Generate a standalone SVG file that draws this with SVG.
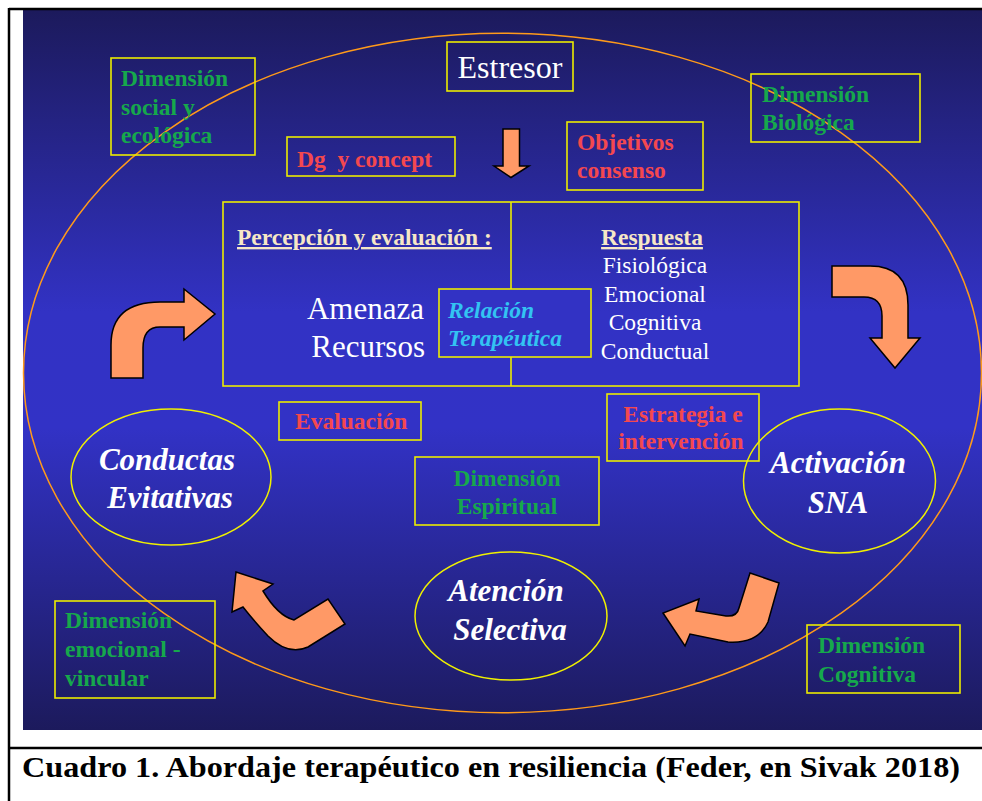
<svg xmlns="http://www.w3.org/2000/svg" width="982" height="801" viewBox="0 0 982 801">
<defs>
<linearGradient id="bg" x1="0" y1="0" x2="0" y2="1">
<stop offset="0" stop-color="#1c1a5c"/>
<stop offset="0.42" stop-color="#3232c4"/>
<stop offset="0.58" stop-color="#3232c6"/>
<stop offset="1" stop-color="#1c1a5c"/>
</linearGradient>
<style>
.box{fill:none;stroke:#ecec00;stroke-width:1.6}
.ell{fill:none;stroke:#f0f000;stroke-width:1.5}
.lbl{font-family:"Liberation Serif","Times New Roman",serif;font-weight:bold;font-size:23.5px}
.green{fill:#16a84c}
.red{fill:#f4484f}
.cream{fill:#f6e7c6;text-decoration:underline}
.plain{font-family:"Liberation Serif","Times New Roman",serif;fill:#ffffff}
.big{font-family:"Liberation Serif","Times New Roman",serif;font-weight:bold;font-style:italic;font-size:31px;fill:#ffffff}
.cyan{fill:#33c3f2;font-style:italic}
.arrow{fill:#ff9966;stroke:#000000;stroke-width:1.5;stroke-linejoin:miter}
</style>
</defs>
<rect x="0" y="0" width="982" height="801" fill="#ffffff"/>
<rect x="23" y="10" width="959" height="720" fill="url(#bg)"/>
<line x1="9" y1="9" x2="982" y2="9" stroke="#000" stroke-width="2.5"/>
<line x1="9" y1="8" x2="9" y2="801" stroke="#000" stroke-width="2.5"/>
<line x1="9" y1="748" x2="982" y2="748" stroke="#000" stroke-width="2.5"/>
<ellipse id="outer" cx="502.5" cy="373" rx="479" ry="339.7" fill="none" stroke="#ff9a1a" stroke-width="1.5"/>

<g id="main">
<rect class="box" x="223" y="202" width="576" height="184"/>
<line class="box" x1="511" y1="202" x2="511" y2="386"/>
<text class="lbl cream" x="237" y="245">Percepción y evaluación :</text>
<text class="lbl cream" x="652" y="245" text-anchor="middle">Respuesta</text>
<text class="plain" font-size="23.5" text-anchor="middle"><tspan x="655" y="273">Fisiológica</tspan><tspan x="655" y="302">Emocional</tspan><tspan x="655" y="330">Cognitiva</tspan><tspan x="655" y="359">Conductual</tspan></text>
<text class="plain" font-size="31" text-anchor="end"><tspan x="424" y="319">Amenaza</tspan><tspan x="425" y="357">Recursos</tspan></text>
</g>

<g id="relacion">
<rect class="box" x="439" y="289" width="152" height="68" fill="#3333c6" style="fill:#3232c4"/>
<text class="lbl cyan"><tspan x="448" y="318">Relación</tspan><tspan x="448" y="346">Terapéutica</tspan></text>
</g>

<g id="estresor">
<rect class="box" x="447" y="42" width="126" height="49"/>
<text class="plain" font-size="32" x="510" y="78" text-anchor="middle">Estresor</text>
</g>

<g id="dim-social">
<rect class="box" x="111" y="58" width="144" height="97"/>
<text class="lbl green"><tspan x="121" y="86">Dimensión</tspan><tspan x="121" y="115">social y</tspan><tspan x="121" y="143">ecológica</tspan></text>
</g>

<g id="dg">
<rect class="box" x="287" y="137" width="168" height="39"/>
<text class="lbl red" x="297" y="167" xml:space="preserve">Dg  y concept</text>
</g>

<g id="objetivos">
<rect class="box" x="567" y="122" width="136" height="68"/>
<text class="lbl red"><tspan x="577" y="150">Objetivos</tspan><tspan x="577" y="178">consenso</tspan></text>
</g>

<g id="dim-bio">
<rect class="box" x="751" y="74" width="169" height="68"/>
<text class="lbl green"><tspan x="762" y="102">Dimensión</tspan><tspan x="762" y="130">Biológica</tspan></text>
</g>

<g id="evaluacion">
<rect class="box" x="279" y="402" width="142" height="38"/>
<text class="lbl red" x="295" y="429">Evaluación</text>
</g>

<g id="estrategia">
<rect class="box" x="607" y="394" width="152" height="67"/>
<text class="lbl red" text-anchor="middle"><tspan x="683" y="422">Estrategia e</tspan><tspan x="681" y="449">intervención</tspan></text>
</g>

<g id="dim-espiritual">
<rect class="box" x="415" y="457" width="184" height="68"/>
<text class="lbl green" text-anchor="middle"><tspan x="507" y="486">Dimensión</tspan><tspan x="507" y="514">Espiritual</tspan></text>
</g>

<g id="conductas">
<ellipse class="ell" cx="171" cy="477" rx="100" ry="68"/>
<text class="big" text-anchor="middle"><tspan x="167" y="470">Conductas</tspan><tspan x="170" y="508">Evitativas</tspan></text>
</g>

<g id="activacion">
<ellipse class="ell" cx="839.5" cy="481" rx="96" ry="72"/>
<text class="big" text-anchor="middle"><tspan x="838" y="473">Activación</tspan><tspan x="838" y="513">SNA</tspan></text>
</g>

<g id="atencion">
<ellipse class="ell" cx="511" cy="616" rx="96" ry="64"/>
<text class="big" text-anchor="middle"><tspan x="506" y="601">Atención</tspan><tspan x="510" y="640">Selectiva</tspan></text>
</g>

<g id="dim-emocional">
<rect class="box" x="55" y="601" width="160" height="97"/>
<text class="lbl green"><tspan x="65" y="628">Dimensión</tspan><tspan x="65" y="657">emocional -</tspan><tspan x="65" y="686">vincular</tspan></text>
</g>

<g id="dim-cognitiva">
<rect class="box" x="807" y="625" width="153" height="68"/>
<text class="lbl green"><tspan x="818" y="653">Dimensión</tspan><tspan x="818" y="682">Cognitiva</tspan></text>
</g>

<g id="connectors">
<path class="arrow" d="M503,129 L519.5,129 L519.5,166 L529,166 L511,177.5 L494,166 L503,166 Z"/>
<path class="arrow" d="M832,266 L870,266 Q908,266 908,305 L908,338 L920,338 L895,368 L870,338 L882,338 L882,316 Q882,297 864,297 L832,297 Z"/>
<path class="arrow" d="M750,573 L779,583 L768,622 Q758,644 728,642 L690,634 L685,646 L663,613 L699,599 L696,611 L726,616 Q737,617 739,608 Z"/>
<path class="arrow" d="M236,572 L273,584 L263,591 Q278,616 294,620 L328,599 L345,624 L308,647 Q288,656 268,636 Q254,621 243,607 L232,612 Z"/>
<path class="arrow" d="M111,378 L111,345 Q111,302 160,302 L184,302 L184,289 L215,314 L184,340 L184,327 L160,327 Q143,327 143,348 L143,378 Z"/>
</g>

<text x="22" y="777" font-family="'Liberation Serif','Times New Roman',serif" font-weight="bold" font-size="29" fill="#000" textLength="938" lengthAdjust="spacingAndGlyphs">Cuadro 1. Abordaje terapéutico en resiliencia (Feder, en Sivak 2018)</text>
</svg>
